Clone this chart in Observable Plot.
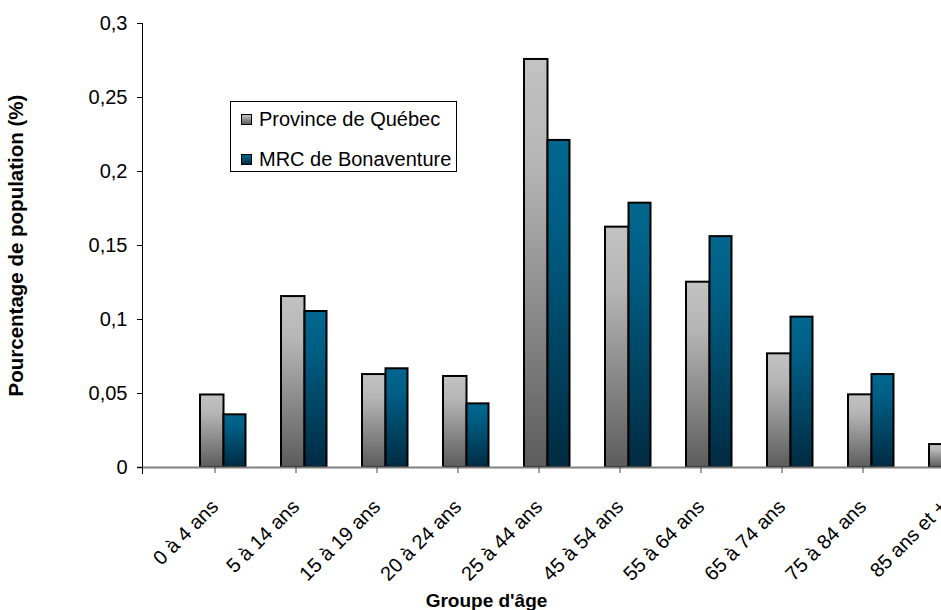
<!DOCTYPE html>
<html><head><meta charset="utf-8">
<script src="https://cdn.jsdelivr.net/npm/d3@7"></script>
<script src="https://cdn.jsdelivr.net/npm/@observablehq/plot@0.6"></script>
<style>
html,body{margin:0;padding:0;background:#fff;overflow:hidden;}
#wrap{position:relative;width:941px;height:610px;overflow:hidden;font-family:Arial,"Liberation Sans",sans-serif;}
#legend{position:absolute;left:230px;top:101px;width:225px;height:69px;border:1px solid #000;background:#fff;}
.item{position:absolute;left:10px;display:flex;align-items:center;font-size:20px;color:#000;line-height:22px;}
.sw{width:9px;height:9px;border:1px solid #000;margin-right:7px;}
</style></head>
<body><div id="wrap"></div>
<script>
const categories = ["0 à 4 ans","5 à 14 ans","15 à 19 ans","20 à 24 ans","25 à 44 ans","45 à 54 ans","55 à 64 ans","65 à 74 ans","75 à 84 ans","85 ans et +"];
const quebec = [0.049,0.1155,0.0628,0.0615,0.2757,0.1624,0.1252,0.0768,0.0491,0.0155];
const bonaventure = [0.0356,0.1054,0.0667,0.043,0.221,0.1786,0.156,0.1016,0.0628,0.022];
const seriesNames = ["Province de Québec","MRC de Bonaventure"];
const yTicks = [0,0.05,0.1,0.15,0.2,0.25,0.3];
const xTitle = "Groupe d'âge";
const yTitle = "Pourcentage de population (%)";

const rowsQ = categories.map((g,i)=>({group:g, value:quebec[i]}));
const rowsB = categories.map((g,i)=>({group:g, value:bonaventure[i]}));
const fmt = d => String(d).replace(".", ",");

function gradients() {
  const g = d3.create("svg:g");
  const defs = g.append("defs");
  const mk = (id, stops) => {
    const lg = defs.append("linearGradient").attr("id", id).attr("x1",0).attr("y1",0).attr("x2",0).attr("y2",1);
    stops.forEach(([o,c]) => lg.append("stop").attr("offset",o).attr("stop-color",c));
  };
  mk("gradGray", [[0,"#c2c2c2"],[0.25,"#b6b6b6"],[1,"#5c5c5c"]]);
  mk("gradBlue", [[0,"#00678f"],[0.25,"#005e84"],[1,"#002b42"]]);
  return g.node();
}

const chart = Plot.plot({
  width: 941, height: 610,
  marginLeft: 142, marginRight: 0, marginTop: 23, marginBottom: 143,
  style: {fontFamily: "Arial, 'Liberation Sans', sans-serif", color: "#000", background: "#fff"},
  x: {type: "band", domain: categories, range: [182.5, 992.5], padding: 0},
  y: {domain: [0, 0.3]},
  marks: [
    gradients,
    Plot.barY(rowsQ, {x: "group", y: "value", fill: "url(#gradGray)", stroke: "#000", strokeWidth: 2, insetLeft: 17, insetRight: 40.5}),
    Plot.barY(rowsB, {x: "group", y: "value", fill: "url(#gradBlue)", stroke: "#000", strokeWidth: 2, insetLeft: 40.5, insetRight: 18.5}),
    Plot.ruleY([0], {stroke: "#808080", strokeWidth: 2, insetLeft: -5}),
    Plot.frame({anchor: "left", stroke: "#000", strokeWidth: 1, insetBottom: -6}),
    Plot.axisY({ticks: yTicks, tickFormat: fmt, tickSize: 5, tickPadding: 10, fontSize: 20, label: null}),
    Plot.axisX({tickSize: 6, tickRotate: -45, tickPadding: 30, dx: -9, fontSize: 20, label: null, stroke: "#444"}),
    Plot.text([yTitle], {frameAnchor: "left", dx: -126, rotate: -90, textAnchor: "middle", lineAnchor: "middle", fontWeight: "bold", fontSize: 20.5}),
    Plot.text([xTitle], {frameAnchor: "bottom", dx: -55.5, dy: 133, textAnchor: "middle", lineAnchor: "middle", fontWeight: "bold", fontSize: 19})
  ]
});
const wrap = document.getElementById("wrap");
wrap.appendChild(chart);

const legend = document.createElement("div");
legend.id = "legend";
const swFills = ["linear-gradient(#c2c2c2,#5c5c5c)", "linear-gradient(#00678f,#002b42)"];
seriesNames.forEach((name, i) => {
  const it = document.createElement("div");
  it.className = "item";
  it.style.top = (i === 0 ? 6 : 46) + "px";
  const sw = document.createElement("div");
  sw.className = "sw";
  sw.style.background = swFills[i];
  const t = document.createElement("span");
  t.textContent = name;
  it.appendChild(sw); it.appendChild(t);
  legend.appendChild(it);
});
wrap.appendChild(legend);
</script>
</body></html>
